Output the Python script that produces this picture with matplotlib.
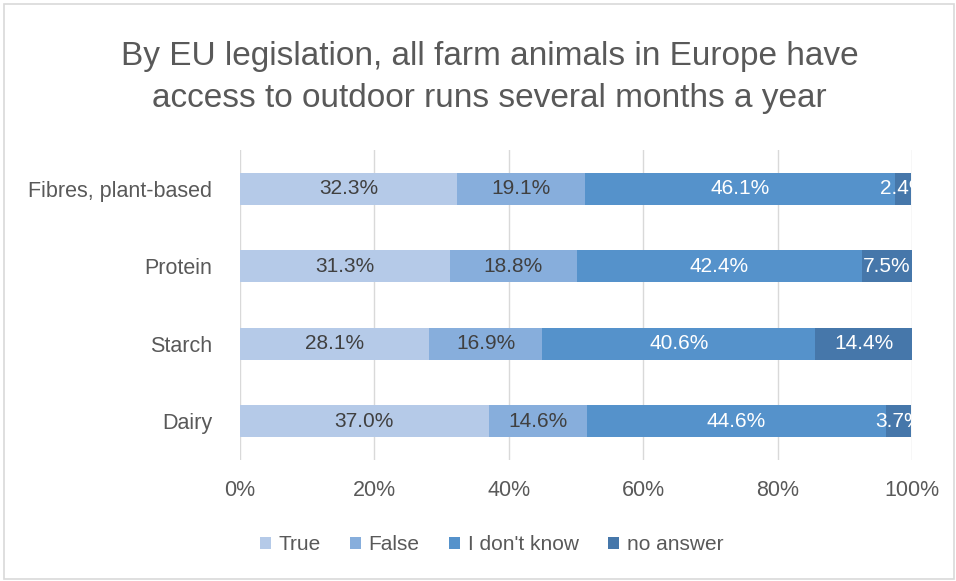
import matplotlib.pyplot as plt
import numpy as np
from matplotlib.patches import Rectangle

# data (percent)
categories = ['Dairy', 'Starch', 'Protein', 'Fibres, plant-based']
series = ['True', 'False', "I don't know", 'no answer']
true_vals = [37.0, 28.1, 31.3, 32.3]
false_vals = [14.6, 16.9, 18.8, 19.1]
dontknow_vals = [44.6, 40.6, 42.4, 46.1]
noanswer_vals = [3.7, 14.4, 7.5, 2.4]

colors = ['#b5cae8', '#87aedc', '#5592cb', '#4677aa']
text_colors = ['#404040', '#404040', 'white', 'white']

plt.rcParams['font.family'] = ['Liberation Sans', 'DejaVu Sans']

fig = plt.figure(figsize=(9.56, 5.81), dpi=100)
ax = fig.add_axes([0.251, 0.208, 0.703, 0.534])

y = np.arange(len(categories))
left = np.zeros(len(categories))
for vals, name, col, tc in zip([true_vals, false_vals, dontknow_vals, noanswer_vals],
                               series, colors, text_colors):
    vals = np.array(vals)
    ax.barh(y, vals, left=left, height=0.41, color=col, label=name, zorder=2)
    for yi, l, v in zip(y, left, vals):
        ax.text(l + v / 2, yi, f'{v:.1f}%', ha='center', va='center',
                color=tc, fontsize=15, clip_on=True, zorder=3)
    left = left + vals

ax.set_xlim(0, 100)
ax.set_ylim(-0.5, 3.5)
ax.set_xticks(np.arange(0, 101, 20))
ax.set_xticklabels([f'{t}%' for t in range(0, 101, 20)])
ax.set_yticks(y)
ax.set_yticklabels(categories)
ax.grid(axis='x', color='#d9d9d9', linewidth=1, zorder=0)
ax.tick_params(length=0, labelsize=15.5, colors='#595959')
ax.tick_params(axis='y', pad=20)
ax.tick_params(axis='x', pad=14)
for s in ax.spines.values():
    s.set_visible(False)

fig.text(0.512, 0.866, 'By EU legislation, all farm animals in Europe have\naccess to outdoor runs several months a year',
         ha='center', va='center', fontsize=24, color='#595959', linespacing=1.45)

ax.legend(loc='center', bbox_to_anchor=(0.514, 0.062), bbox_transform=fig.transFigure,
          ncol=4, frameon=False, fontsize=15, labelcolor='#595959',
          handlelength=0.55, handleheight=0.55, handletextpad=0.35, columnspacing=1.4)

# chart border
fig.patches.append(Rectangle((0.004, 0.003), 0.994, 0.99, transform=fig.transFigure,
                             fill=False, edgecolor='#d9d9d9', linewidth=1.2))

fig.savefig('out.png', dpi=100)
